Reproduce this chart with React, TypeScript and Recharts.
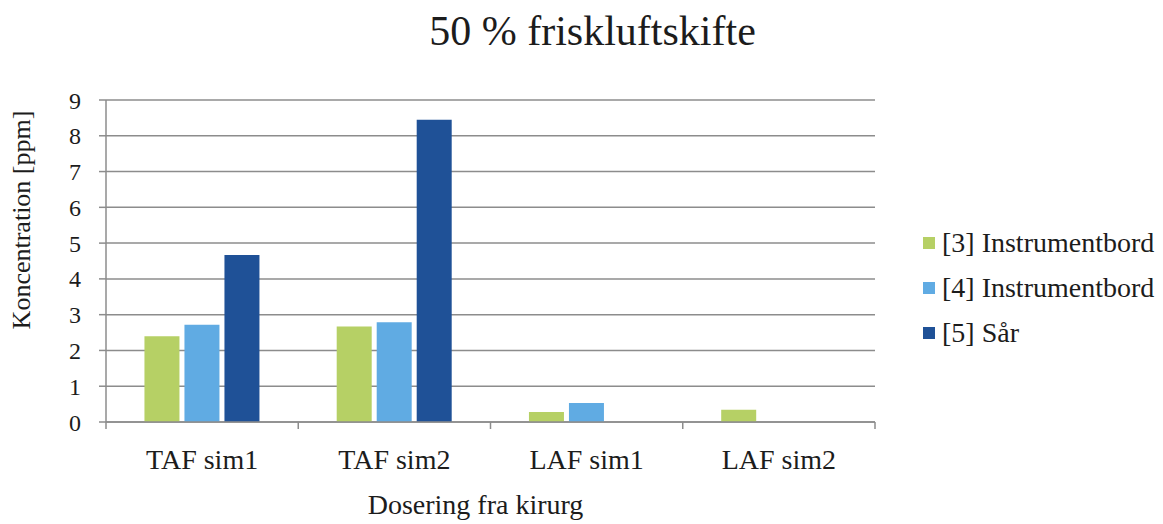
import { BarChart, Bar, XAxis, YAxis, CartesianGrid, Label } from "recharts";

const categories = ["TAF sim1", "TAF sim2", "LAF sim1", "LAF sim2"];
const instrument3 = [2.4, 2.67, 0.28, 0.34];
const instrument4 = [2.72, 2.79, 0.53, 0];
const saar = [4.67, 8.45, 0, 0];
const yTicks = [0, 1, 2, 3, 4, 5, 6, 7, 8, 9];

const SERIES = [
  { key: "s3", name: "[3] Instrumentbord", color: "#b6d065" },
  { key: "s4", name: "[4] Instrumentbord", color: "#60abe3" },
  { key: "s5", name: "[5] Sår", color: "#1f5197" },
];

const FONT = "Liberation Serif, Times New Roman, serif";
const TEXT = "#1c1c1c";
const GRID = "#8c8c8c";
const X_TICK_MARGIN = 27;

const data = categories.map((name, i) => ({
  name,
  s3: instrument3[i],
  s4: instrument4[i],
  s5: saar[i],
}));

// category label plus the small boundary ticks Excel draws between groups
function CategoryTick(props: any) {
  const { x, y, payload, index, visibleTicksCount } = props;
  const half = payload.offset || 0;
  const axisY = y - X_TICK_MARGIN;
  const last = index === visibleTicksCount - 1;
  return (
    <g>
      <line x1={x - half} x2={x - half} y1={axisY} y2={axisY + 7} stroke={GRID} strokeWidth={1.5} />
      {last && <line x1={x + half} x2={x + half} y1={axisY} y2={axisY + 7} stroke={GRID} strokeWidth={1.5} />}
      <text x={x} y={y} dy="0.71em" textAnchor="middle" fill={TEXT} fontFamily={FONT} fontSize={28}>
        {payload.value}
      </text>
    </g>
  );
}

function LegendBox() {
  return (
    <div
      style={{
        position: "absolute",
        left: 923,
        top: 220,
        fontFamily: FONT,
        fontSize: 28,
        color: TEXT,
      }}
    >
      {SERIES.map((s) => (
        <div key={s.key} style={{ display: "flex", alignItems: "center", height: 45 }}>
          <span style={{ width: 12, height: 12, background: s.color, marginRight: 7, flexShrink: 0 }} />
          <span style={{ whiteSpace: "nowrap" }}>{s.name}</span>
        </div>
      ))}
    </div>
  );
}

function YTitle() {
  return (
    <text
      x={30}
      y={220}
      transform="rotate(-90, 30, 220)"
      textAnchor="middle"
      fontFamily={FONT}
      fontSize={26}
      fill={TEXT}
    >
      Koncentration [ppm]
    </text>
  );
}

export default function App() {
  return (
    <div style={{ position: "absolute", left: 0, top: 0, width: 1163, height: 524, background: "#fff" }}>
      <div
        style={{
          position: "absolute",
          top: 10,
          left: 22,
          width: 1141,
          textAlign: "center",
          fontFamily: FONT,
          fontSize: 42,
          lineHeight: "42px",
          color: TEXT,
        }}
      >
        50 % friskluftskifte
      </div>
      <BarChart
        width={1163}
        height={524}
        data={data}
        margin={{ top: 100, right: 288, bottom: 0, left: 0 }}
        barCategoryGap="20%"
        barGap={5}
      >
        <CartesianGrid vertical={false} stroke={GRID} strokeWidth={1.5} />
        <XAxis
          dataKey="name"
          height={102}
          stroke={GRID}
          strokeWidth={1.5}
          tickLine={false}
          tickSize={0}
          tickMargin={X_TICK_MARGIN}
          interval={0}
          tick={<CategoryTick />}
        >
          <Label
            value="Dosering fra kirurg"
            position="insideBottom"
            offset={10}
            dx={-15}
            fill={TEXT}
            fontFamily={FONT}
            fontSize={28}
          />
        </XAxis>
        <YAxis
          width={106}
          domain={[0, 9]}
          ticks={yTicks}
          interval={0}
          stroke={GRID}
          strokeWidth={1.5}
          tickSize={7}
          tickMargin={18}
          tick={{ fill: TEXT, fontFamily: FONT, fontSize: 24 }}
        >
          <Label content={<YTitle />} />
        </YAxis>
        {SERIES.map((s) => (
          <Bar key={s.key} dataKey={s.key} name={s.name} fill={s.color} isAnimationActive={false} />
        ))}
      </BarChart>
      <LegendBox />
    </div>
  );
}
